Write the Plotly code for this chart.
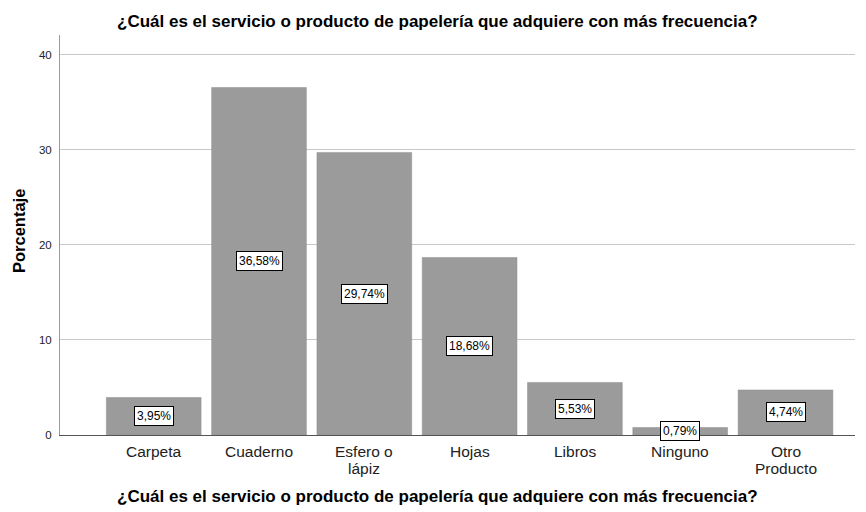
import plotly.graph_objects as go

categories = ["Carpeta", "Cuaderno", "Esfero o<br>lápiz", "Hojas", "Libros", "Ninguno", "Otro<br>Producto"]
percentages = [3.95, 36.58, 29.74, 18.68, 5.53, 0.79, 4.74]
value_labels = ["3,95%", "36,58%", "29,74%", "18,68%", "5,53%", "0,79%", "4,74%"]
y_ticks = [0, 10, 20, 30, 40]

title_text = "¿Cuál es el servicio o producto de papelería que adquiere con más frecuencia?"
FONT = "Liberation Sans, Arial, sans-serif"

fig = go.Figure()
fig.add_trace(go.Bar(
    x=list(range(len(categories))),
    y=percentages,
    marker=dict(color="#9b9b9b", line=dict(color="#8f8f8f", width=0.5)),
    width=0.9,
    hoverinfo="skip",
))

# Boxed value labels placed at the middle of each bar
for i, (v, lab) in enumerate(zip(percentages, value_labels)):
    fig.add_annotation(
        x=i, y=v / 2, xref="x", yref="y", text=lab, showarrow=False,
        font=dict(family=FONT, size=12, color="black"),
        bgcolor="white", bordercolor="black", borderwidth=1, borderpad=2,
    )

# Category labels, drawn line by line for tight line spacing
for i, cat in enumerate(categories):
    for k, line in enumerate(cat.split("<br>")):
        fig.add_annotation(
            x=i, y=0, xref="x", yref="paper", text=line, showarrow=False,
            yanchor="middle", yshift=-16 - 17 * k,
            font=dict(family=FONT, size=15.5, color="#222222"),
        )

# Chart title (top) and x-axis title (bottom)
fig.add_annotation(x=0.5, y=1, xref="paper", yref="paper", text="<b>" + title_text + "</b>",
                   showarrow=False, yanchor="middle", yshift=14, xshift=-20,
                   font=dict(family=FONT, size=17, color="black"))
fig.add_annotation(x=0.5, y=0, xref="paper", yref="paper", text="<b>" + title_text + "</b>",
                   showarrow=False, yanchor="middle", yshift=-61, xshift=-20,
                   font=dict(family=FONT, size=17, color="black"))

# Y-axis title
fig.add_annotation(x=0, y=0.51, xref="paper", yref="paper", text="<b>Porcentaje</b>",
                   showarrow=False, textangle=-90, xanchor="center", yanchor="middle",
                   xshift=-41,
                   font=dict(family=FONT, size=16.5, color="black"))

fig.update_layout(
    width=866, height=512,
    margin=dict(l=60, r=11, t=35, b=77),
    paper_bgcolor="white", plot_bgcolor="white",
    showlegend=False,
    font=dict(family=FONT, color="black"),
)
fig.update_xaxes(
    tickmode="array", tickvals=list(range(len(categories))), showticklabels=False,
    range=[-0.89, 6.66], showgrid=False, showline=True, linecolor="#555555", linewidth=1,
    ticks="", automargin=False,
)
fig.update_yaxes(
    tickmode="array", tickvals=y_ticks, range=[0, 42.1],
    showgrid=True, gridcolor="#c8c8c8", gridwidth=1, zeroline=False,
    showline=True, linecolor="#999999", linewidth=1,
    ticks="", tickfont=dict(size=11.5, family=FONT, color="#222222"),
    ticklabelstandoff=5,
    automargin=False,
)

fig.write_html("out.html")
